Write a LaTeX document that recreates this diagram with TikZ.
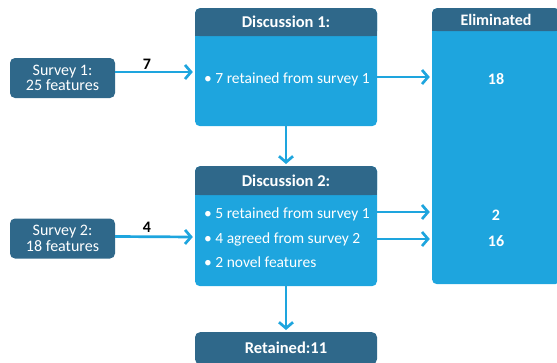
\documentclass[tikz,border=0pt]{standalone}
\usepackage{fontspec}
\setmainfont{Carlito}
\usetikzlibrary{arrows.meta}
\definecolor{hdrblue}{RGB}{47,104,138}
\definecolor{boxblue}{RGB}{30,165,222}

\begin{document}
\begin{tikzpicture}[x=1pt,y=-1pt]
    \useasboundingbox (0,0) rectangle (557,362);

    \tikzstyle{survey}=[fill=hdrblue,text=white,rounded corners=5pt,minimum width=105pt,minimum height=40pt,align=center,inner sep=0pt,font=\fontsize{16}{15.5}\selectfont]
    \tikzstyle{body}=[fill=boxblue,rounded corners=5pt,minimum width=182pt,anchor=north,inner sep=0pt]
    \tikzstyle{head}=[fill=hdrblue,text=white,rounded corners=5pt,minimum width=182pt,anchor=north,inner sep=0pt,font=\bfseries\fontsize{16.5}{17}\selectfont]
    \tikzstyle{item}=[text=white,anchor=west,inner sep=0pt,font=\fontsize{15.5}{16}\selectfont]
    \tikzstyle{count}=[text=white,font=\bfseries\fontsize{16}{16}\selectfont]
    \tikzstyle{num}=[font=\bfseries\fontsize{16}{16}\selectfont]

    % surveys
    \node[survey] (s1) at (62.5,78) {Survey 1:\\25 features};
    \node[survey] (s2) at (62.5,238.5) {Survey 2:\\18 features};

    % discussion 1
    \node[body,minimum height=118pt] (d1) at (286,8) {};
    \node[head,minimum height=28pt] (d1head) at (286,8) {Discussion 1:};
    \fill[hdrblue] ([yshift=6pt]d1head.south west) rectangle (d1head.south east);
    \node[item] (d1a) at (204,79) {\textbullet\ 7 retained from survey 1};

    % discussion 2
    \node[body,minimum height=120pt] (d2) at (286,166) {};
    \node[head,minimum height=29pt] (d2head) at (286,166) {Discussion 2:};
    \fill[hdrblue] ([yshift=6pt]d2head.south west) rectangle (d2head.south east);
    \node[item] (d2a) at (204,214) {\textbullet\ 5 retained from survey 1};
    \node[item] (d2b) at (204,239) {\textbullet\ 4 agreed from survey 2};
    \node[item] (d2c) at (204,262) {\textbullet\ 2 novel features};

    % eliminated
    \node[body,minimum width=128pt,minimum height=276pt] (elim) at (496,8) {};
    \node[head,minimum width=128pt,minimum height=23pt,font=\bfseries\fontsize{16}{16}\selectfont] (elimhead) at (496,8) {Eliminated};
    \fill[hdrblue] ([yshift=6pt]elimhead.south west) rectangle (elimhead.south east);
    \node[count] (n18) at (496,79) {18};
    \node[count] (n2) at (496,215) {2};
    \node[count] (n16) at (496,241) {16};

    % retained
    \node[head,minimum height=32pt] (ret) at (286,332) {Retained:11};

    \tikzstyle{fwd}=[draw=boxblue,line width=2.7pt,shorten >=2pt,-{Straight Barb[length=6pt,width=14pt]}]

    \draw[fwd] ([yshift=6pt]s1.east) -- (d1.west |- 0,72);
    \draw[fwd] ([yshift=2pt]s2.east) -- (d2.west |- 0,237);
    \node[num] (l7) at (147,64.5) {7};
    \node[num] (l4) at (147,227) {4};

    \draw[fwd] (d1.east |- 0,77) -- (elim.west |- 0,77);
    \draw[fwd] (d2.east |- 0,212) -- (elim.west |- 0,212);
    \draw[fwd] (d2.east |- 0,239) -- (elim.west |- 0,239);

    \draw[fwd] (d1.south) -- (d2head.north);
    \draw[fwd] (d2.south) -- (ret.north);
\end{tikzpicture}
\end{document}
